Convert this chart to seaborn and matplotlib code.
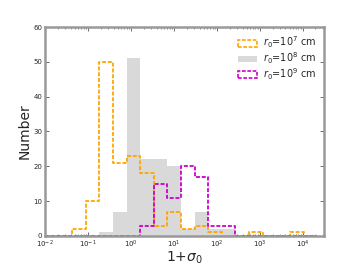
import numpy as np
import pandas as pd
import matplotlib
matplotlib.use("Agg")
import matplotlib.pyplot as plt
from matplotlib.patches import Patch
from matplotlib.ticker import NullFormatter, LogLocator
import seaborn as sns

# log10 bin edges: 20 bins from 10^-2
log_lo, log_hi, nbins = -2.0, 4.34, 20

counts_r7 = [0, 0, 2, 10, 50, 21, 23, 18, 3, 7, 2, 3, 1, 0, 0, 1, 0, 0, 1, 0]
counts_r8 = [0, 0, 0, 0, 1, 7, 51, 22, 22, 20, 2, 7, 2, 2, 0, 0, 0, 0, 0, 0]
counts_r9 = [0, 0, 0, 0, 0, 0, 0, 3, 15, 11, 20, 17, 3, 3, 0, 0, 0, 0, 0, 0]

labels = [r"$r_0$=10$^7$ cm", r"$r_0$=10$^8$ cm", r"$r_0$=10$^9$ cm"]
colors = ["#FFA500", "#d9d9d9", "#CC00CC"]

edges_log = np.linspace(log_lo, log_hi, nbins + 1)
centers = 10 ** (0.5 * (edges_log[:-1] + edges_log[1:]))

sns.set_style("ticks")
fig = plt.figure(figsize=(3.6, 2.7), dpi=100)
ax = fig.add_axes([0.125, 0.126, 0.775, 0.774])

dash = (0, (2.2, 1.0))
common = dict(bins=nbins, binrange=(log_lo, log_hi), log_scale=True, element="step", ax=ax)
sns.histplot(x=centers, weights=counts_r8, fill=True, color=colors[1], alpha=1.0,
             linewidth=0, **common)
sns.histplot(x=centers, weights=counts_r7, fill=False, color=colors[0],
             linewidth=1.3, linestyle=dash, **common)
sns.histplot(x=centers, weights=counts_r9, fill=False, color=colors[2],
             linewidth=1.3, linestyle=dash, **common)

ax.set_xlim(1e-2, 10 ** 4.5)
ax.set_ylim(0, 60)
ax.set_xticks([1e-2, 1e-1, 1e0, 1e1, 1e2, 1e3, 1e4])
ax.xaxis.set_minor_locator(LogLocator(base=10, subs=np.arange(2, 10) * 1.0, numticks=20))
ax.xaxis.set_minor_formatter(NullFormatter())
ax.set_xlabel(r"1+$\sigma_0$", fontsize=10, labelpad=0)
ax.set_ylabel("Number", fontsize=10, labelpad=1)
ax.set_yticks([0, 10, 20, 30, 40, 50, 60])
ax.tick_params(axis="both", which="both", direction="in", top=True, right=True,
               labelsize=5, color="#555555", pad=2)
ax.tick_params(which="major", length=3, width=0.6)
ax.tick_params(which="minor", length=1.5, width=0.5)
for s in ax.spines.values():
    s.set_color("#999999")
    s.set_linewidth(1.8)

handles = [
    Patch(facecolor="none", edgecolor=colors[0], linestyle=dash, linewidth=1.2),
    Patch(facecolor=colors[1], edgecolor="none"),
    Patch(facecolor="none", edgecolor=colors[2], linestyle=dash, linewidth=1.2),
]
ax.legend(handles, labels, loc="upper right", frameon=False, fontsize=7,
          handlelength=2.0, handleheight=0.7, labelspacing=0.02,
          handletextpad=0.6, borderaxespad=0.4)

fig.savefig("out.png", dpi=100)
